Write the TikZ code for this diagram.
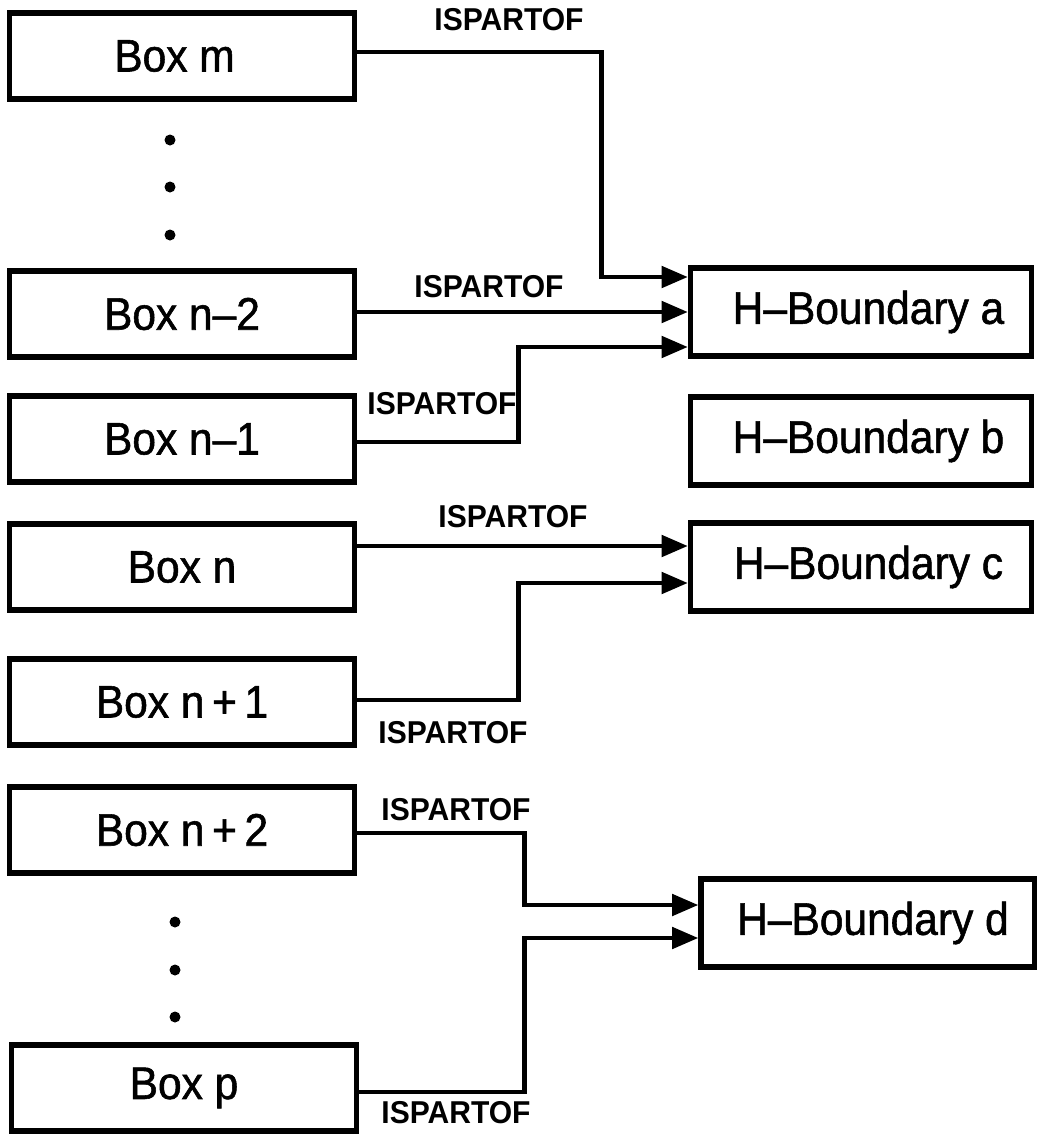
\documentclass[tikz,border=0pt]{standalone}
\usepackage{fontspec}
\setmainfont{Liberation Sans}
\newfontfamily\boxfont[FakeStretch=0.93,FakeBold=1.2]{Liberation Sans}
\newfontfamily\relfont[FakeStretch=0.95]{Liberation Sans}
\usetikzlibrary{arrows.meta}

\tikzset{
  leftbox/.style={draw, line width=3pt, inner sep=0pt,
    minimum width=6.9cm, minimum height=1.72cm,
    font=\boxfont\fontsize{26}{30}\selectfont},
  rightbox/.style={draw, line width=3pt, inner sep=0pt,
    minimum width=6.82cm, minimum height=1.76cm,
    font=\boxfont\fontsize{26}{30}\selectfont},
  rel/.style={inner sep=0pt, font=\relfont\bfseries\fontsize{18}{21}\selectfont},
  conn/.style={line width=2.8pt, -{Triangle[length=15pt,width=12pt]}},
  vdot/.style={circle, fill, inner sep=0pt, minimum size=0.22cm}
}

\begin{document}
\begin{tikzpicture}[x=0.02cm, y=-0.02cm]
  \fill[white] (0,0) rectangle (1037,1136);
  \useasboundingbox (0,0) rectangle (1037,1136);

  % left column of boxes
  \node[leftbox] (bm)   at (182,56)   {Box m\hspace*{0.3cm}};
  \node[leftbox] (bn2)  at (182,314)  {Box n\textendash2};
  \node[leftbox] (bn1)  at (182,439)  {Box n\textendash1};
  \node[leftbox] (bn)   at (182,567)  {Box n};
  \node[leftbox] (bnp1) at (182,702)  {Box n\,+\,1};
  \node[leftbox] (bnp2) at (182,830)  {Box n\,+\,2};
  \node[leftbox] (bp)   at (184,1088) {Box p};

  % ellipsis dots
  \node[vdot] (e1) at (170,140) {};
  \node[vdot] (e2) at (170,187) {};
  \node[vdot] (e3) at (170,235) {};
  \node[vdot] (e4) at (175,922) {};
  \node[vdot] (e5) at (175,970) {};
  \node[vdot] (e6) at (175,1017) {};

  % right column of boundaries
  \node[rightbox] (ha) at (861,312) {\hspace*{0.3cm}H\textendash Boundary a};
  \node[rightbox] (hb) at (861,441) {\hspace*{0.3cm}H\textendash Boundary b};
  \node[rightbox] (hc) at (861,567) {\hspace*{0.3cm}H\textendash Boundary c};
  \node[rightbox, minimum width=6.68cm] (hd) at (868,923) {\hspace*{0.2cm}H\textendash Boundary d};

  % arrow entry points
  \coordinate (aIn1) at ([yshift=0.7cm]ha.west);
  \coordinate (aIn3) at ([yshift=-0.7cm]ha.west);
  \coordinate (cIn1) at ([yshift=0.42cm]hc.west);
  \coordinate (cIn2) at ([yshift=-0.32cm]hc.west);
  \coordinate (dIn1) at ([yshift=0.36cm]hd.west);
  \coordinate (dIn2) at ([yshift=-0.3cm]hd.west);

  % connectors
  \draw[conn] ([yshift=0.08cm]bm.east) -| ([xshift=-1.72cm]aIn1) -- (aIn1);
  \draw[conn] (ha.west -| bn2.east) -- (ha.west);
  \draw[conn] ([yshift=-0.06cm]bn1.east) -| ([xshift=-3.38cm]aIn3) -- (aIn3);
  \draw[conn] (cIn1 -| bn.east) -- (cIn1);
  \draw[conn] ([yshift=0.04cm]bnp1.east) -| ([xshift=-3.38cm]cIn2) -- (cIn2);
  \draw[conn] ([yshift=-0.06cm]bnp2.east) -| ([xshift=-3.48cm]dIn1) -- (dIn1);
  \draw[conn] ([yshift=-0.08cm]bp.east) -| ([xshift=-3.48cm]dIn2) -- (dIn2);

  % relation labels
  \node[rel] (l1) at (509,20)   {ISPARTOF};
  \node[rel] (l2) at (489,287)  {ISPARTOF};
  \node[rel] (l3) at (442,404)  {ISPARTOF};
  \node[rel] (l4) at (513,517)  {ISPARTOF};
  \node[rel] (l5) at (453,733)  {ISPARTOF};
  \node[rel] (l6) at (456,810)  {ISPARTOF};
  \node[rel] (l7) at (456,1113) {ISPARTOF};
\end{tikzpicture}
\end{document}
